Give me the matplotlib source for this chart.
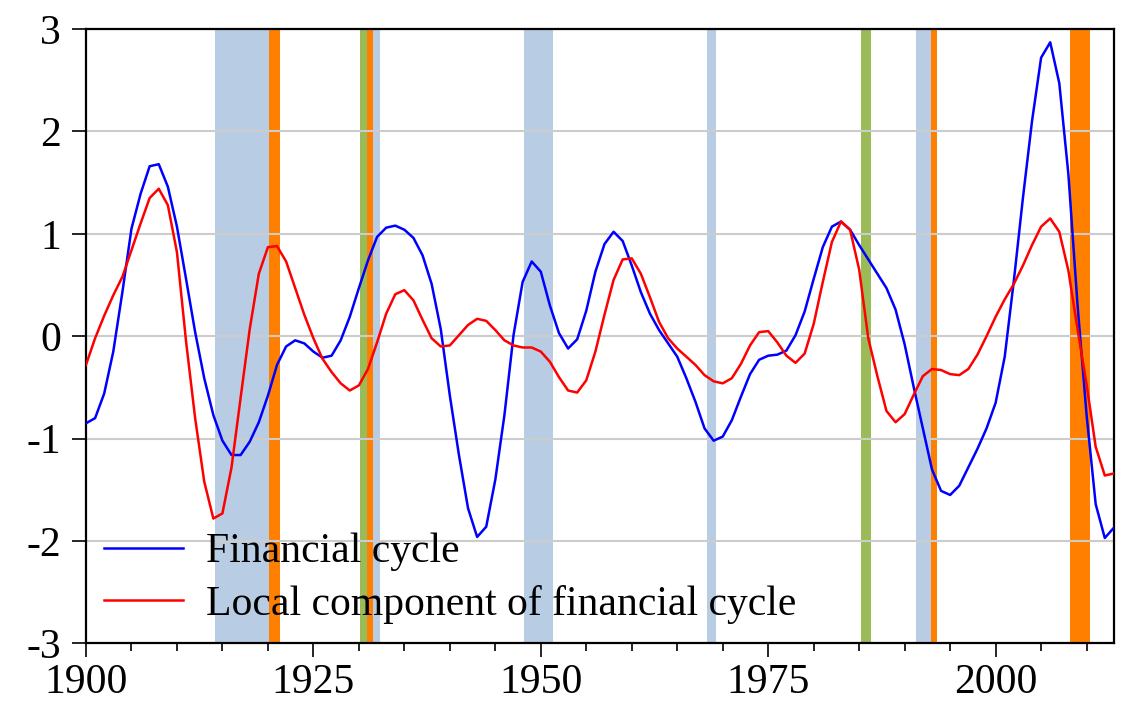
import matplotlib
matplotlib.use("Agg")
import matplotlib.pyplot as plt
import numpy as np

years = list(range(1900, 2014))

financial_cycle = [
    -0.85, -0.80, -0.56, -0.15, 0.43, 1.05, 1.39, 1.66, 1.68, 1.46,
    1.07, 0.56, 0.04, -0.41, -0.77, -1.02, -1.16, -1.16, -1.03, -0.84,
    -0.58, -0.28, -0.10, -0.04, -0.07, -0.15, -0.21, -0.19, -0.04, 0.19,
    0.47, 0.74, 0.97, 1.06, 1.08, 1.04, 0.96, 0.79, 0.51, 0.07,
    -0.58, -1.16, -1.68, -1.96, -1.86, -1.40, -0.77, 0.01, 0.53, 0.73,
    0.63, 0.30, 0.03, -0.12, -0.03, 0.25, 0.63, 0.90, 1.02, 0.93,
    0.69, 0.43, 0.22, 0.06, -0.07, -0.20, -0.41, -0.64, -0.90, -1.02,
    -0.98, -0.82, -0.59, -0.37, -0.23, -0.19, -0.18, -0.14, 0.01, 0.24,
    0.56, 0.87, 1.07, 1.12, 1.04, 0.89, 0.75, 0.61, 0.47, 0.26,
    -0.08, -0.50, -0.90, -1.30, -1.51, -1.55, -1.46, -1.28, -1.10, -0.90,
    -0.65, -0.20, 0.54, 1.35, 2.10, 2.72, 2.87, 2.47, 1.58, 0.31,
    -0.77, -1.64, -1.97, -1.87,
]

local_component = [
    -0.28, -0.02, 0.20, 0.40, 0.58, 0.84, 1.10, 1.35, 1.44, 1.28,
    0.82, -0.05, -0.80, -1.42, -1.78, -1.73, -1.28, -0.60, 0.07, 0.61,
    0.87, 0.88, 0.73, 0.47, 0.21, -0.02, -0.22, -0.35, -0.46, -0.53,
    -0.48, -0.32, -0.06, 0.22, 0.41, 0.45, 0.35, 0.16, -0.02, -0.10,
    -0.09, 0.01, 0.11, 0.17, 0.15, 0.06, -0.04, -0.09, -0.11, -0.11,
    -0.15, -0.25, -0.40, -0.53, -0.55, -0.43, -0.15, 0.21, 0.55, 0.75,
    0.76, 0.61, 0.38, 0.14, -0.02, -0.12, -0.20, -0.28, -0.38, -0.44,
    -0.46, -0.41, -0.27, -0.09, 0.04, 0.05, -0.06, -0.19, -0.26, -0.17,
    0.12, 0.53, 0.92, 1.12, 1.04, 0.65, -0.02, -0.39, -0.73, -0.84,
    -0.76, -0.57, -0.39, -0.32, -0.33, -0.37, -0.38, -0.32, -0.18, 0.00,
    0.19, 0.36, 0.51, 0.69, 0.89, 1.07, 1.15, 1.02, 0.64, 0.07,
    -0.47, -1.08, -1.36, -1.34,
]

# shaded episodes (start, end) in years
blue_periods = [(1914.2, 1920.1), (1931.5, 1932.3), (1948.1, 1951.3),
                (1968.3, 1969.3), (1991.2, 1992.9)]
orange_periods = [(1920.1, 1921.3), (1930.9, 1931.5), (1992.9, 1993.6),
                  (2008.2, 2010.4)]
green_periods = [(1930.1, 1930.9), (1985.2, 1986.3)]

series_labels = ["Financial cycle", "Local component of financial cycle"]
x_major = [1900, 1925, 1950, 1975, 2000]
y_ticks = [-3, -2, -1, 0, 1, 2, 3]

plt.rcParams["font.family"] = ["Liberation Serif", "DejaVu Serif"]
plt.rcParams["axes.unicode_minus"] = False

fig = plt.figure(figsize=(11.24, 7.04), dpi=100)
ax = fig.add_axes([0.0765, 0.086, 0.9145, 0.8728])

for s, e in blue_periods:
    ax.axvspan(s, e, color="#b8cce4", lw=0, zorder=1)
for s, e in orange_periods:
    ax.axvspan(s, e, color="#ff8000", lw=0, zorder=1)
for s, e in green_periods:
    ax.axvspan(s, e, color="#9bbb59", lw=0, zorder=1)

ax.plot(years, financial_cycle, color="#0000ff", lw=1.8, label=series_labels[0], zorder=3)
ax.plot(years, local_component, color="#ff0000", lw=1.8, label=series_labels[1], zorder=3)

ax.set_xlim(1900, 2013)
ax.set_ylim(-3, 3)
ax.set_yticks(y_ticks)
ax.set_yticklabels([str(v) for v in y_ticks])
ax.set_xticks(x_major)
ax.set_xticks(list(range(1900, 2014, 5)), minor=True)

ax.set_axisbelow("line")
ax.yaxis.grid(True, color="#cccccc", lw=1.5, zorder=1.5)
ax.xaxis.grid(False)

for sp in ax.spines.values():
    sp.set_linewidth(1.6)
    sp.set_color("black")

ax.tick_params(axis="both", which="major", labelsize=30, direction="out",
               length=10, width=1.2)
ax.tick_params(axis="y", which="major", pad=8)
ax.tick_params(axis="x", which="major", pad=4.5)
ax.tick_params(axis="x", which="minor", direction="out", length=5.5, width=1.2)

leg = ax.legend(loc="center left", bbox_to_anchor=(0.0175, 0.106), frameon=False,
                fontsize=30, handlelength=1.9, handletextpad=0.55,
                labelspacing=0.33, borderpad=0, borderaxespad=0)

fig.savefig("out.png", dpi=100)
